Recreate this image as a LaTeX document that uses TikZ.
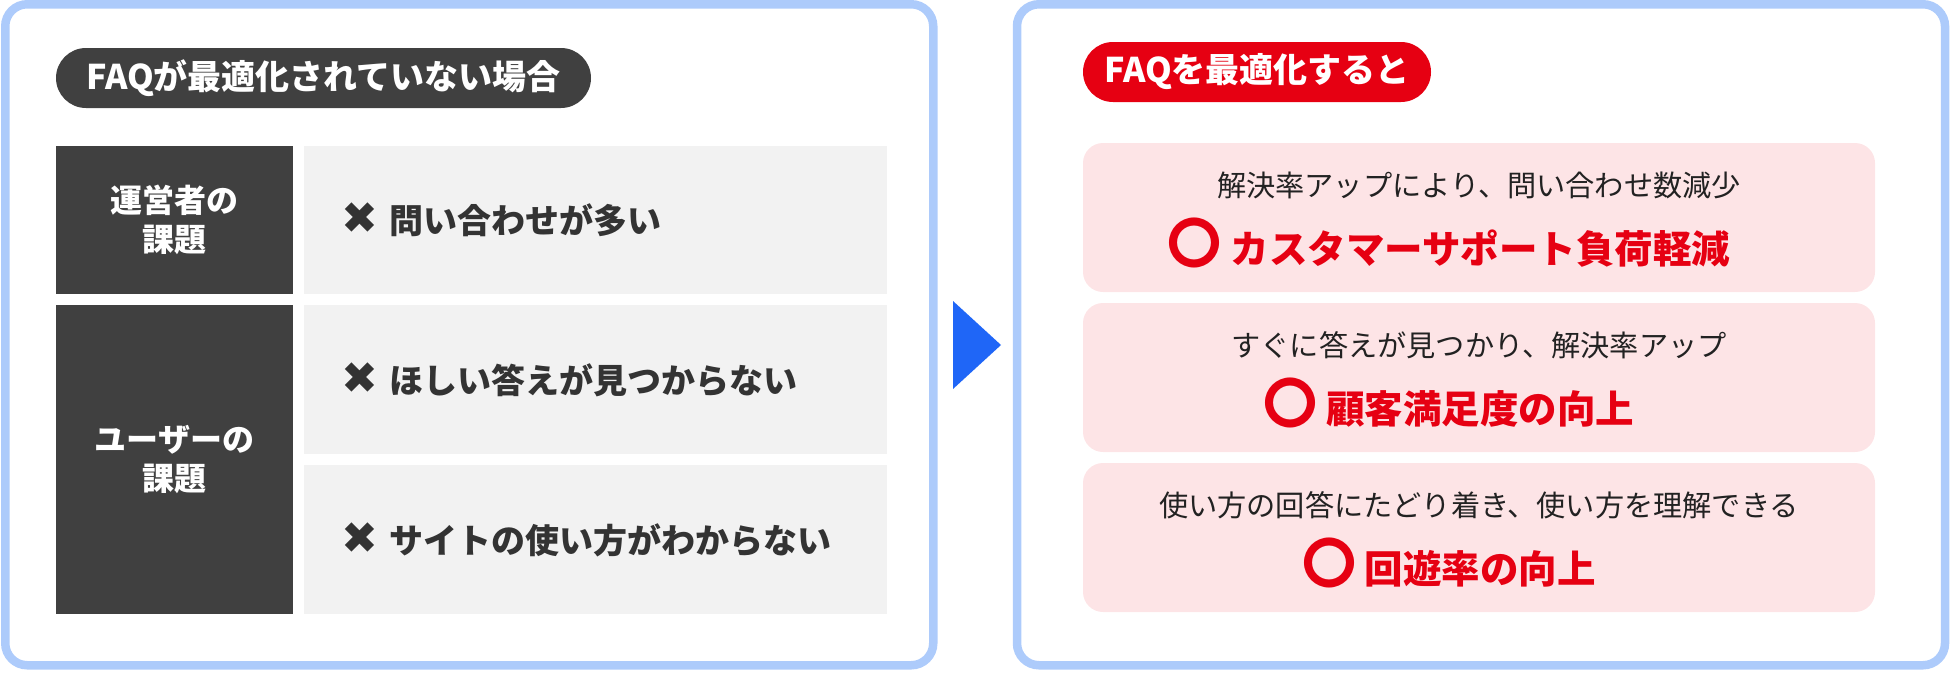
\documentclass[tikz,border=0pt]{standalone}
\usepackage{fontspec}
\setmainfont{Noto Sans CJK JP}
\newfontfamily\symfont{DejaVu Sans}
\usetikzlibrary{positioning,calc}

\definecolor{panelblue}{HTML}{ADCBFB}
\definecolor{arrowblue}{HTML}{1F66F7}
\definecolor{darkcell}{HTML}{404040}
\definecolor{graycell}{HTML}{F2F2F2}
\definecolor{pinkcard}{HTML}{FDE4E6}
\definecolor{faqred}{HTML}{E60012}
\definecolor{itemtext}{HTML}{333333}
\definecolor{subtext}{HTML}{222222}

\newcommand\crossmark{{\symfont\fontsize{44}{44}\selectfont ✖}}
\newcommand\okmark{{\fontsize{54}{54}\selectfont 〇}}

\begin{document}
\begin{tikzpicture}[
    x=1pt, y=-1pt,
    panel/.style={draw=panelblue, line width=8.5pt, rounded corners=22pt, minimum width=928pt, minimum height=661pt, inner sep=0pt, outer sep=0pt},
    pill/.style={rounded corners=30pt, minimum height=60pt, inner sep=0pt, text=white, font=\fontsize{34}{40}\selectfont\bfseries},
    headcell/.style={fill=darkcell, minimum width=237pt, inner sep=0pt, outer sep=0pt, align=center, text=white, font=\fontsize{32}{39}\selectfont\bfseries},
    itemcell/.style={fill=graycell, minimum height=149pt, text width=509pt, inner xsep=37pt, inner ysep=0pt, outer sep=0pt, align=left, text=itemtext, font=\fontsize{34}{40}\selectfont\bfseries},
    card/.style={fill=pinkcard, rounded corners=20pt, minimum width=792pt, minimum height=149pt, inner sep=0pt, outer sep=0pt},
    cardsub/.style={text=subtext, font=\fontsize{29.2}{34}\selectfont},
    cardgain/.style={text=faqred, font=\fontsize{38.5}{44}\selectfont\bfseries},
    node distance=11pt,
  ]
  \useasboundingbox (0,0) rectangle (1950,672);

  % Panels
  \node[panel] (before) at (469.25,334.75) {};
  \node[panel] (after) at (1481,334.75) {};
  \fill[arrowblue] (953,301) -- (1001,345) -- (953,389) -- cycle;

  % Before
  \node[pill, fill=darkcell, minimum width=535pt] (beforetitle) at (323.5,78) {FAQが最適化されていない場合};
  \node[headcell, minimum height=148pt] (opshead) at (174.5,220) {運営者の\\課題};
  \node[itemcell, minimum height=148pt, right=of opshead] (opsitem) {\crossmark\ 問い合わせが多い};
  \node[headcell, minimum height=309pt, below=of opshead] (userhead) {ユーザーの\\課題};
  \node[itemcell, below=of opsitem] (useritema) {\crossmark\ ほしい答えが見つからない};
  \node[itemcell, below=of useritema] (useritemb) {\crossmark\ サイトの使い方がわからない};

  % After
  \node[pill, fill=faqred, minimum width=348pt] (aftertitle) at (1257,72) {FAQを最適化すると};
  \node[card] (gaina) at (1479,217.5) {};
  \node[card, below=of gaina] (gainb) {};
  \node[card, below=of gainb] (gainc) {};
  \node[cardsub] (gainasub) at ($(gaina.center)+(0,-32)$) {解決率アップにより、問い合わせ数減少};
  \node[cardgain] (gainamain) at ($(gaina.center)+(-30,25)$) {\okmark\ カスタマーサポート負荷軽減};
  \node[cardsub] (gainbsub) at ($(gainb.center)+(0,-32)$) {すぐに答えが見つかり、解決率アップ};
  \node[cardgain] (gainbmain) at ($(gainb.center)+(-30,25)$) {\okmark\ 顧客満足度の向上};
  \node[cardsub] (gaincsub) at ($(gainc.center)+(0,-32)$) {使い方の回答にたどり着き、使い方を理解できる};
  \node[cardgain] (gaincmain) at ($(gainc.center)+(-30,25)$) {\okmark\ 回遊率の向上};
\end{tikzpicture}
\end{document}
